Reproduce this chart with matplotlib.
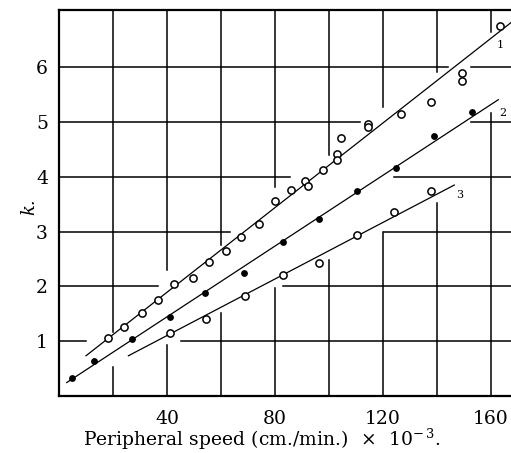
import matplotlib.pyplot as plt

plt.rcParams['font.family'] = 'DejaVu Serif'
plt.rcParams['mathtext.fontset'] = 'dejavuserif'

# series 1 (open circles, upper line)
x1 = [18.0, 24.1, 30.6, 36.5, 42.7, 49.5, 55.7, 61.9, 67.3, 74.2, 79.9, 86.0,
      91.0, 92.2, 97.9, 102.8, 103.1, 104.6, 114.6, 114.6, 126.5, 137.8,
      149.4, 149.4, 163.3]
k1 = [1.05, 1.26, 1.51, 1.74, 2.04, 2.16, 2.45, 2.65, 2.90, 3.14, 3.55, 3.76,
      3.93, 3.84, 4.13, 4.42, 4.30, 4.71, 4.97, 4.91, 5.15, 5.36,
      5.90, 5.75, 6.76]
# series 2 (filled dots)
x2 = [4.7, 12.8, 27.2, 41.1, 54.1, 68.5, 83.1, 96.4, 110.5, 124.7, 138.9, 153.1]
k2 = [0.33, 0.64, 1.03, 1.43, 1.87, 2.25, 2.80, 3.23, 3.75, 4.16, 4.75, 5.18]
# series 3 (open circles, lower line)
x3 = [41.1, 54.4, 68.9, 82.8, 96.4, 110.3, 124.1, 137.8]
k3 = [1.15, 1.41, 1.82, 2.21, 2.43, 2.94, 3.35, 3.74]

# fitted straight lines (end points)
fit1_x, fit1_k = [10.0, 170.0], [0.73, 6.92]
fit2_x, fit2_k = [2.85, 162.7], [0.24, 5.41]
fit3_x, fit3_k = [25.7, 146.4], [0.73, 3.85]

fig = plt.figure(figsize=(5.11, 4.53), dpi=100)
ax = fig.add_axes([0.1155, 0.1265, 0.8845, 0.8515])
ax.set_xlim(0, 167.4)
ax.set_ylim(0, 7.05)

# broken grid, as printed
hgrid = {1: [(0, 10.0), (45.0, 167.4)],
         2: [(0, 36.7), (83.1, 167.4)],
         3: [(0, 63.4), (120.5, 167.4)],
         4: [(0, 85.6), (124.2, 167.4)],
         5: [(0, 111.5), (152.6, 167.4)],
         6: [(0, 144.0), (152.6, 167.4)]}
vgrid = {20: [(0, 0.53), (1.17, 7.05)],
         40: [(0, 0.93), (2.3, 7.05)],
         60: [(0, 1.51), (2.75, 7.05)],
         80: [(0, 1.97), (3.82, 7.05)],
         100: [(0, 2.48), (4.4, 7.05)],
         120: [(0, 3.0), (5.28, 7.05)],
         140: [(0, 3.52), (5.92, 7.05)],
         160: [(0, 5.17), (6.65, 7.05)]}
for y, segs in hgrid.items():
    for a, b in segs:
        ax.plot([a, b], [y, y], color='black', lw=1.1, zorder=1)
for x, segs in vgrid.items():
    for a, b in segs:
        ax.plot([x, x], [a, b], color='black', lw=1.1, zorder=1)

ax.plot(fit1_x, fit1_k, color='black', lw=0.9, zorder=2)
ax.plot(fit2_x, fit2_k, color='black', lw=0.9, zorder=2)
ax.plot(fit3_x, fit3_k, color='black', lw=0.9, zorder=2)

ax.plot(x1, k1, 'o', ms=5.2, mfc='white', mec='black', mew=1.1, zorder=3)
ax.plot(x2, k2, 'o', ms=3.9, mfc='black', mec='black', zorder=3)
ax.plot(x3, k3, 'o', ms=5.2, mfc='white', mec='black', mew=1.1, zorder=3)

ax.text(163.3, 6.41, '1', fontsize=8, ha='center', va='center')
ax.text(164.2, 5.16, '2', fontsize=8, ha='center', va='center')
ax.text(148.5, 3.67, '3', fontsize=8, ha='center', va='center')

ax.set_xticks([40, 80, 120, 160])
ax.set_yticks([1, 2, 3, 4, 5, 6])
ax.tick_params(length=0, labelsize=13.5)
ax.tick_params(axis='x', pad=10)
ax.tick_params(axis='y', pad=8)

for s in ['left', 'bottom', 'top']:
    ax.spines[s].set_linewidth(1.6)
ax.spines['right'].set_visible(False)

ax.set_xlabel(r'Peripheral speed (cm./min.) $\,\times\,$ 10$^{-\,3}$.', fontsize=13.5)
ax.xaxis.set_label_coords(0.449, -0.08)
ax.set_ylabel('k.', fontstyle='italic', fontsize=13)
ax.yaxis.set_label_coords(-0.045, 0.49)

fig.savefig('out.png', dpi=100)
